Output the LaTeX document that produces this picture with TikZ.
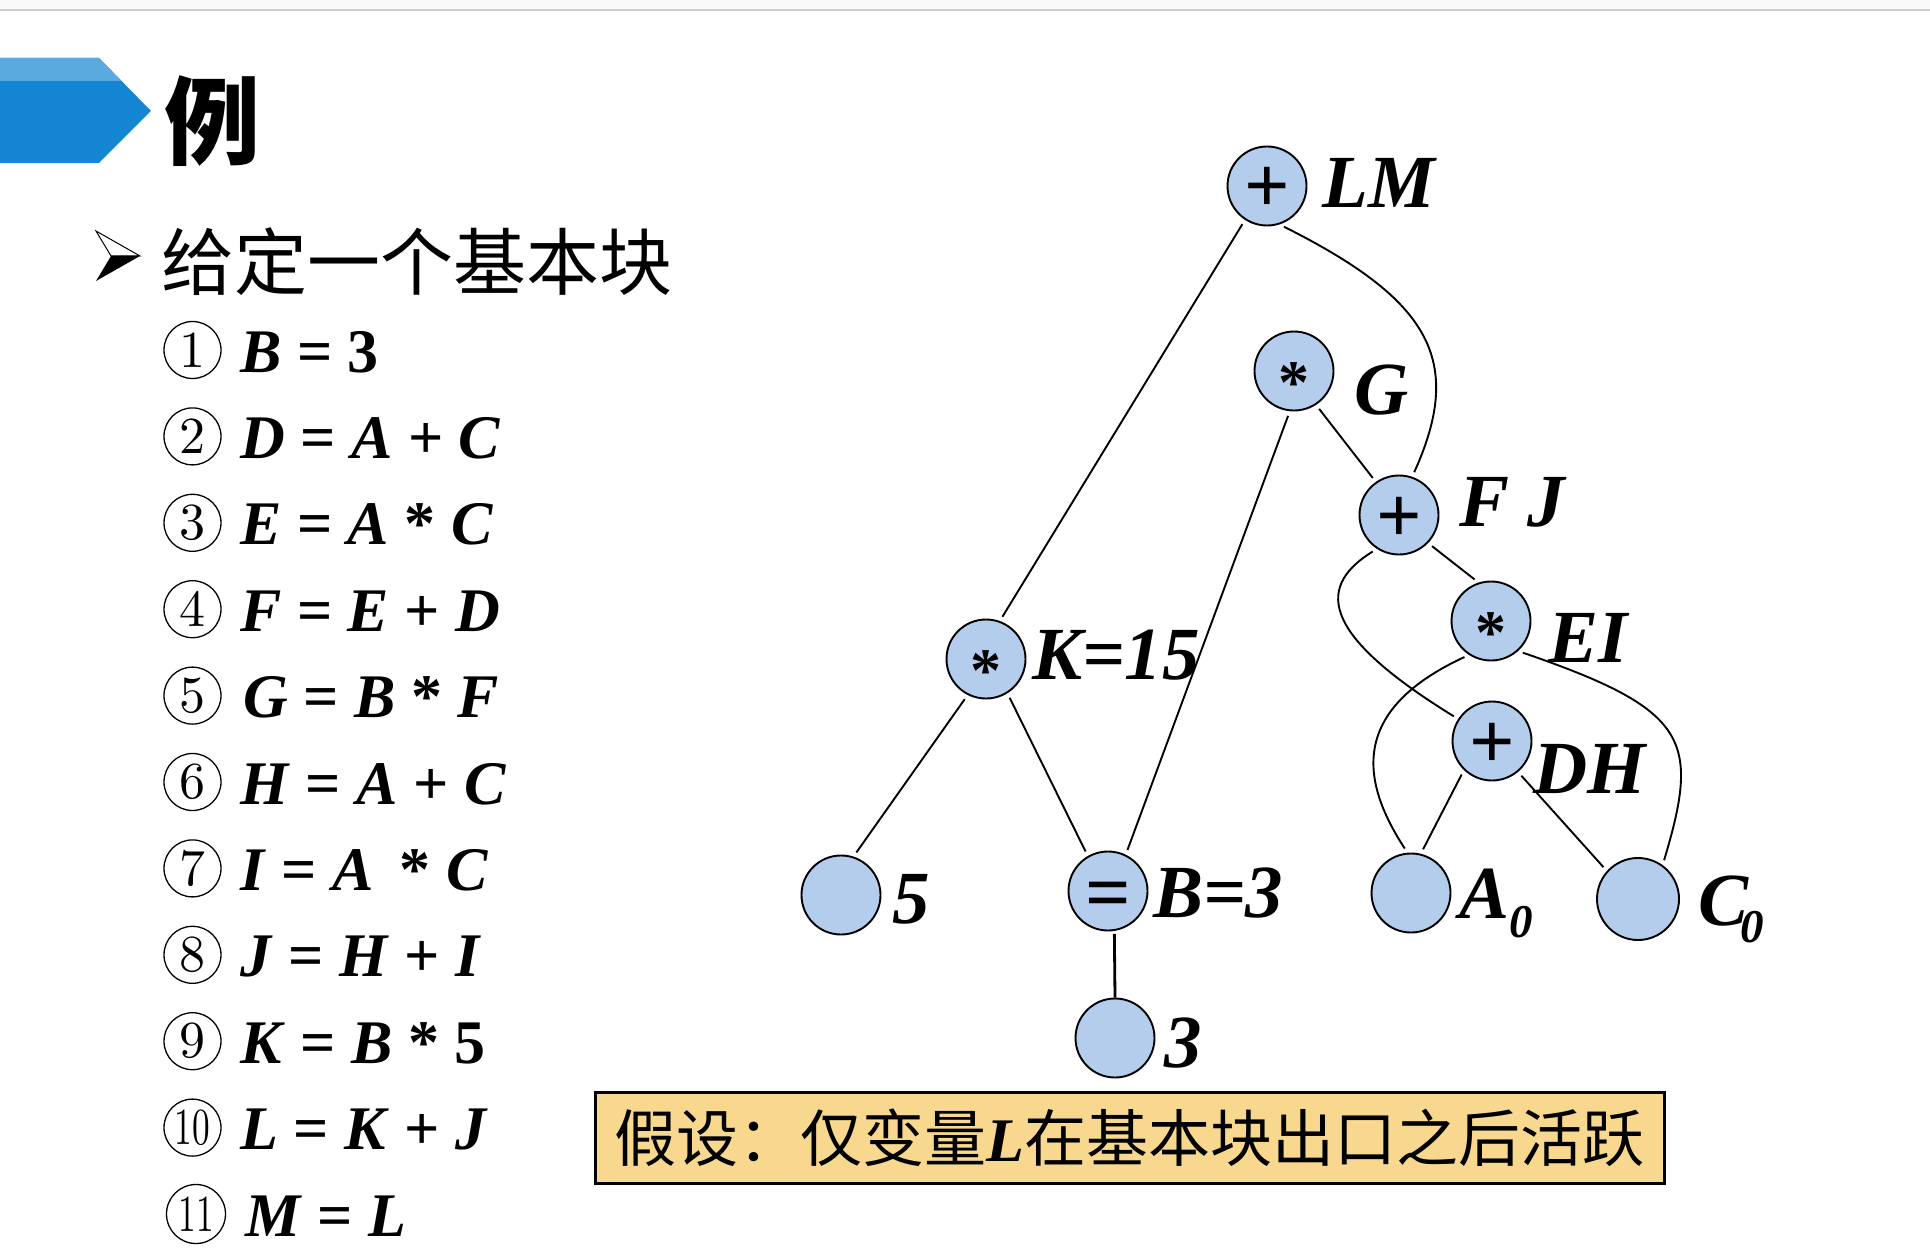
\documentclass[tikz,border=0pt]{standalone}
\usepackage{fontspec}
\setmainfont{Liberation Serif}
\newfontfamily\cjk{Noto Sans CJK SC}
\newfontfamily\lmfont{lmroman10-regular.otf}
\definecolor{nodefill}{HTML}{B4CDEC}
\definecolor{bandark}{HTML}{1485D3}
\definecolor{banlight}{HTML}{5AAAE0}
\definecolor{notefill}{HTML}{F8D88E}
\definecolor{topgrey}{HTML}{F9F9F9}
\definecolor{topline}{HTML}{CCCCCC}
\begin{document}
\begin{tikzpicture}[x=1pt,y=-1pt,
 dagnode/.style={circle,draw=black,line width=1.9pt,fill=nodefill,minimum size=79pt,inner sep=0pt,text height=40pt,text depth=0pt,font=\fontsize{80}{80}\selectfont\bfseries},
 lab/.style={anchor=base west,inner sep=0pt,font=\fontsize{75}{75}\selectfont\bfseries\itshape},
 eq/.style={anchor=base west,inner sep=0pt,font=\fontsize{62}{62}\selectfont\bfseries},
 numc/.style={circle,draw=black,line width=1.3pt,minimum size=57pt,inner sep=0pt,font=\lmfont\fontsize{52}{52}\selectfont},
 edge/.style={line width=1.9pt,shorten <=5pt,shorten >=5pt},
]
\useasboundingbox (0,0) rectangle (1930,1257);
\fill[white] (0,0) rectangle (1930,1257);
% top strip
\fill[topgrey] (0,0) rectangle (1930,10);
\draw[topline,line width=2pt] (0,10.5) -- (1930,10.5);
% banner
\fill[bandark] (0,58) -- (99,58) -- (151,111) -- (99,163) -- (0,163) -- cycle;
\fill[banlight] (0,58) -- (99,58) -- (121.6,81) -- (0,81) -- cycle;
\node[inner sep=0pt,font=\cjk\bfseries\fontsize{96}{96}\selectfont] (title) at (212,121) {例};
% bullet
\filldraw[fill=white,draw=black,line width=1pt,line join=miter] (96,231) -- (140,256) -- (111,256) -- cycle;
\fill[black] (111,256) -- (140,256) -- (96,281) -- cycle;
\node[anchor=west,inner sep=0pt,font=\cjk\fontsize{73}{73}\selectfont] (head) at (161,262) {给定一个基本块};
% numbered list
\node[numc] (c1) at (192.5,350) {1};
\node[numc] (c2) at (192.5,436.4) {2};
\node[numc] (c3) at (192.5,522.8) {3};
\node[numc] (c4) at (192.5,609.2) {4};
\node[numc] (c5) at (192.5,695.6) {5};
\node[numc] (c6) at (192.5,782) {6};
\node[numc] (c7) at (192.5,868.4) {7};
\node[numc] (c8) at (192.5,954.8) {8};
\node[numc] (c9) at (192.5,1041.2) {9};
\node[numc] (c10) at (192.5,1127.6) {\scalebox{0.68}[1]{10}};
\node[numc,minimum size=59pt] (c11) at (196,1214) {\scalebox{0.68}[1]{11}};
\node[eq] (e1) at (240,372) {\textit{B} = 3};
\node[eq] (e2) at (240,458.4) {\textit{D} = \textit{A} + \textit{C}};
\node[eq] (e3) at (240,544.8) {\textit{E} = \textit{A} * \textit{C}};
\node[eq] (e4) at (240,631.2) {\textit{F} = \textit{E} + \textit{D}};
\node[eq] (e5) at (243,717.6) {\textit{G} = \textit{B} * \textit{F}};
\node[eq] (e6) at (240,804) {\textit{H} = \textit{A} + \textit{C}};
\node[eq] (e7) at (240,890.4) {\textit{I} = \textit{A} \,* \textit{C}};
\node[eq] (e8) at (240,976.8) {\textit{J} = \textit{H} + \textit{I}};
\node[eq] (e9) at (240,1063.2) {\textit{K} = \textit{B} * 5};
\node[eq] (e10) at (240,1149.6) {\textit{L} = \textit{K} + \textit{J}};
\node[eq] (e11) at (245,1236) {\textit{M} = \textit{L}};
% DAG nodes
\node[dagnode] (LM) at (1267,186) {\raisebox{-7pt}{+}};
\node[dagnode] (G) at (1294,371) {\raisebox{-12pt}{\fontsize{62}{62}\selectfont *}};
\node[dagnode] (FJ) at (1399,515) {\raisebox{-7pt}{+}};
\node[dagnode] (EI) at (1491,621) {\raisebox{-12pt}{\fontsize{62}{62}\selectfont *}};
\node[dagnode] (DH) at (1492,741) {\raisebox{-7pt}{+}};
\node[dagnode] (K) at (986,659) {\raisebox{-12pt}{\fontsize{62}{62}\selectfont *}};
\node[dagnode] (N5) at (841,895) {};
\node[dagnode] (B3) at (1108,891) {\raisebox{-8pt}{=}};
\node[dagnode] (N3) at (1115,1038) {};
\node[dagnode] (A0) at (1411,893) {};
\node[dagnode,minimum size=82pt] (C0) at (1638,899) {};
% labels
\node[lab] (lLM) at (1322,208) {LM};
\node[lab] (lG) at (1354,414) {G};
\node[lab] (lFJ) at (1459,526) {F J};
\node[lab] (lEI) at (1548,662) {EI};
\node[lab] (lDH) at (1533,793) {DH};
\node[lab] (lK) at (1032,679) {K=15};
\node[lab] (l5) at (892,923) {5};
\node[lab] (lB3) at (1153,917) {B=3};
\node[lab] (l3) at (1164,1067) {3};
\node[lab] (lA0) at (1459,918) {A\raisebox{-19pt}{\fontsize{47}{47}\selectfont 0}};
\node[lab] (lC0) at (1698,925) {C\kern-8pt\raisebox{-17pt}{\fontsize{47}{47}\selectfont 0}};
% edges
\draw[edge] (LM.237) -- (K.70);
\draw[edge] (LM.288) .. controls (1430,300) and (1465,360) .. (FJ.71);
\draw[edge] (G.264) -- (B3.64);
\draw[edge] (G.303) -- (FJ.125);
\draw[edge] (FJ.316) -- (EI.108);
\draw[edge] (FJ.237) .. controls (1310,590) and (1330,640) .. (DH.147);
\draw[edge] (EI.237) .. controls (1350,710) and (1360,780) .. (A0.95);
\draw[edge] (EI.312) .. controls (1690,710) and (1700,740) .. (C0.54);
\draw[edge] (DH.226) -- (A0.76);
\draw[edge] (DH.310) -- (C0.138);
\draw[edge] (K.243) -- (N5.72);
\draw[edge] (K.302) -- (B3.120);
\draw[line width=2.8pt,shorten <=3pt] (B3.279) -- (N3.90);
% note
\node[draw=black,line width=3pt,fill=notefill,minimum width=1069pt,minimum height=91pt,inner sep=0pt,font=\cjk\fontsize{62}{62}\selectfont] (note) at (1129.5,1137.5) {假设：仅变量{\rmfamily\bfseries\itshape L}在基本块出口之后活跃};
\end{tikzpicture}
\end{document}
